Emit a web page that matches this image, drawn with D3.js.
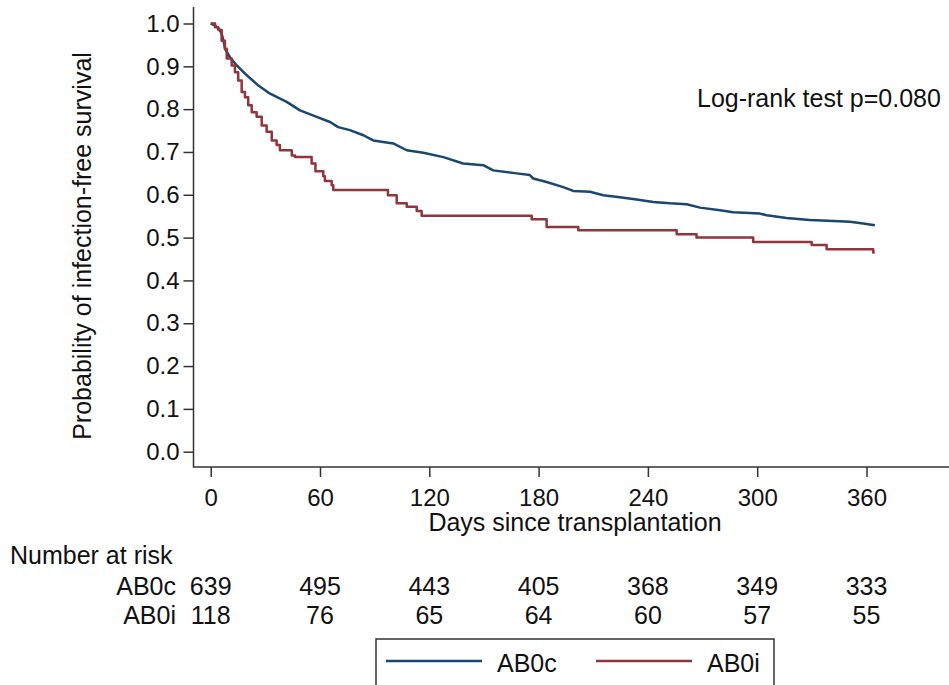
<!DOCTYPE html>
<html>
<head>
  <meta charset="utf-8">
  <title>Infection-free survival</title>
  <style>
  body {
    margin: 0;
    background: #fff;
  }
  text {
    font-family: "Liberation Sans", Arial, sans-serif;
    font-size: 25px;
    fill: #111;
  }
</style>
</head>
<body>
  <div id="chart"></div>

  <script src="https://d3js.org/d3.v7.min.js"></script>
  <script>
    // Kaplan-Meier curves: day of event, survival after it
    const ab0cDays = [0, 2.5, 5, 6.1, 7, 7.9, 10.6, 14.3, 19.8, 26.2, 32.6, 41.7, 49, 58.2, 65.5, 70, 76.4, 83.8, 89.2,
      100.2, 107.6, 116.7, 127.7, 138.6, 149.6, 155.1, 167.9, 175.2, 177.1, 184.4, 193.5, 199, 208.2, 215.5, 224.6,
      233.8, 242.9, 252.1, 261.3, 268.6, 279.6, 286.8, 301.5, 305.2, 316.1, 328.9, 341.7, 350.9, 358.2, 364.6];
    const ab0cSurv = [1.0, 0.995, 0.985, 0.975, 0.96, 0.941, 0.921, 0.902, 0.879, 0.855, 0.836, 0.817, 0.797, 0.782, 0.77,
      0.758, 0.751, 0.739, 0.727, 0.72, 0.704, 0.698, 0.688, 0.673, 0.669, 0.657, 0.65, 0.646, 0.638, 0.63, 0.618,
      0.609, 0.607, 0.599, 0.594, 0.589, 0.583, 0.58, 0.578, 0.57, 0.564, 0.559, 0.556, 0.552, 0.546, 0.541, 0.539,
      0.537, 0.533, 0.529];

    const ab0iDays = [0, 2.4, 4.2, 6, 7.8, 8.8, 11.5, 13.3, 15.1, 17, 18.8, 20.6, 22.5, 25.2, 28, 30.7, 33.5, 36.2, 38,
      44.5, 46.3, 55.4, 57.5, 61.8, 62.7, 66.4, 67.3, 97.3, 102.1, 107.6, 113.1, 115.8, 176.2, 184.4, 201.8, 255.8,
      266.7, 297.8, 329.9, 338.1, 363.7, 364.5];
    const ab0iSurv = [1.0, 0.991, 0.985, 0.96, 0.941, 0.918, 0.902, 0.886, 0.867, 0.84, 0.828, 0.809, 0.793, 0.782,
      0.762, 0.747, 0.727, 0.716, 0.704, 0.692, 0.688, 0.673, 0.655, 0.643, 0.632, 0.622, 0.611, 0.599, 0.58, 0.572,
      0.562, 0.551, 0.543, 0.525, 0.517, 0.508, 0.5, 0.49, 0.483, 0.473, 0.465, 0.465];

    // number at risk table
    const riskTimes = [0, 60, 120, 180, 240, 300, 360];
    const riskAB0c = [639, 495, 443, 405, 368, 349, 333];
    const riskAB0i = [118, 76, 65, 64, 60, 57, 55];

    const xTicks = [0, 60, 120, 180, 240, 300, 360];
    const yTicks = [0, 0.1, 0.2, 0.3, 0.4, 0.5, 0.6, 0.7, 0.8, 0.9, 1.0];

    const groups = ["AB0c", "AB0i"];
    const colors = ["#1a476f", "#90353b"];

    let svgWidth = 949;
    let svgHeight = 685;
    let svg = d3.select("#chart")
      .append("svg")
      .attr("width", svgWidth)
      .attr("height", svgHeight);

    // scales
    let x_scale = d3.scaleLinear()
      .domain([0, 360])
      .range([210.7, 866.5]);

    let y_scale = d3.scaleLinear()
      .domain([0, 1])
      .range([451.7, 23.5]);

    let axisLeftX = 193.5;
    let axisBottomY = 467;

    // axes
    let gY = svg.append("g")
      .attr("transform", `translate(${axisLeftX},0)`)
      .call(d3.axisLeft(y_scale).tickValues(yTicks).tickFormat(d3.format(".1f")).tickSize(10).tickPadding(4));

    let gX = svg.append("g")
      .attr("transform", `translate(0,${axisBottomY})`)
      .call(d3.axisBottom(x_scale).tickValues(xTicks).tickSize(10).tickPadding(12));

    [gX, gY].forEach(g => {
      g.select(".domain").remove();
      g.selectAll(".tick line").attr("stroke", "#333").attr("stroke-width", 1.5);
      g.selectAll(".tick text").style("font-size", "24px").attr("fill", "#111");
    });

    // axis lines
    svg.append("path")
      .attr("d", `M${axisLeftX},7 V${axisBottomY} H${svgWidth}`)
      .attr("fill", "none")
      .attr("stroke", "#333")
      .attr("stroke-width", 1.5);

    // survival curves; AB0c has many tiny steps, so a plain line reads closer
    let curves = [d3.curveLinear, d3.curveStepAfter];
    let series = [
      d3.zip(ab0cDays, ab0cSurv),
      d3.zip(ab0iDays, ab0iSurv)
    ];

    series.forEach((s, i) => {
      let line = d3.line()
        .x(d => x_scale(d[0]))
        .y(d => y_scale(d[1]))
        .curve(curves[i]);
      svg.append("path")
        .datum(s)
        .attr("d", line)
        .attr("fill", "none")
        .attr("stroke", colors[i])
        .attr("stroke-width", 2.5)
        .attr("stroke-linejoin", "round");
    });

    // annotation
    svg.append("text")
      .attr("x", 697)
      .attr("y", 107)
      .text("Log-rank test p=0.080");

    // axis titles
    svg.append("text")
      .attr("transform", "translate(82,246) rotate(-90)")
      .attr("text-anchor", "middle")
      .attr("dy", "0.35em")
      .text("Probability of infection-free survival");

    svg.append("text")
      .attr("x", 575)
      .attr("y", 531)
      .attr("text-anchor", "middle")
      .text("Days since transplantation");

    // number at risk
    svg.append("text")
      .attr("x", 10)
      .attr("y", 564)
      .text("Number at risk");

    let riskRows = [riskAB0c, riskAB0i];
    let rowY = [595, 624];
    riskRows.forEach((row, i) => {
      svg.append("text")
        .attr("x", 176)
        .attr("y", rowY[i])
        .attr("text-anchor", "end")
        .text(groups[i]);
      svg.selectAll(null)
        .data(row)
        .enter()
        .append("text")
        .attr("x", (d, j) => x_scale(riskTimes[j]))
        .attr("y", rowY[i])
        .attr("text-anchor", "middle")
        .text(d => d);
    });

    // legend
    let legend = svg.append("g");
    legend.append("rect")
      .attr("x", 376)
      .attr("y", 639)
      .attr("width", 398)
      .attr("height", 60)
      .attr("fill", "#fff")
      .attr("stroke", "#333")
      .attr("stroke-width", 1.5);

    let legendX = [386, 596];
    groups.forEach((g, i) => {
      legend.append("line")
        .attr("x1", legendX[i])
        .attr("x2", legendX[i] + 96)
        .attr("y1", 661)
        .attr("y2", 661)
        .attr("stroke", colors[i])
        .attr("stroke-width", 2.5);
      legend.append("text")
        .attr("x", legendX[i] + 111)
        .attr("y", 672)
        .text(g);
    });
  </script>
</body>
</html>
